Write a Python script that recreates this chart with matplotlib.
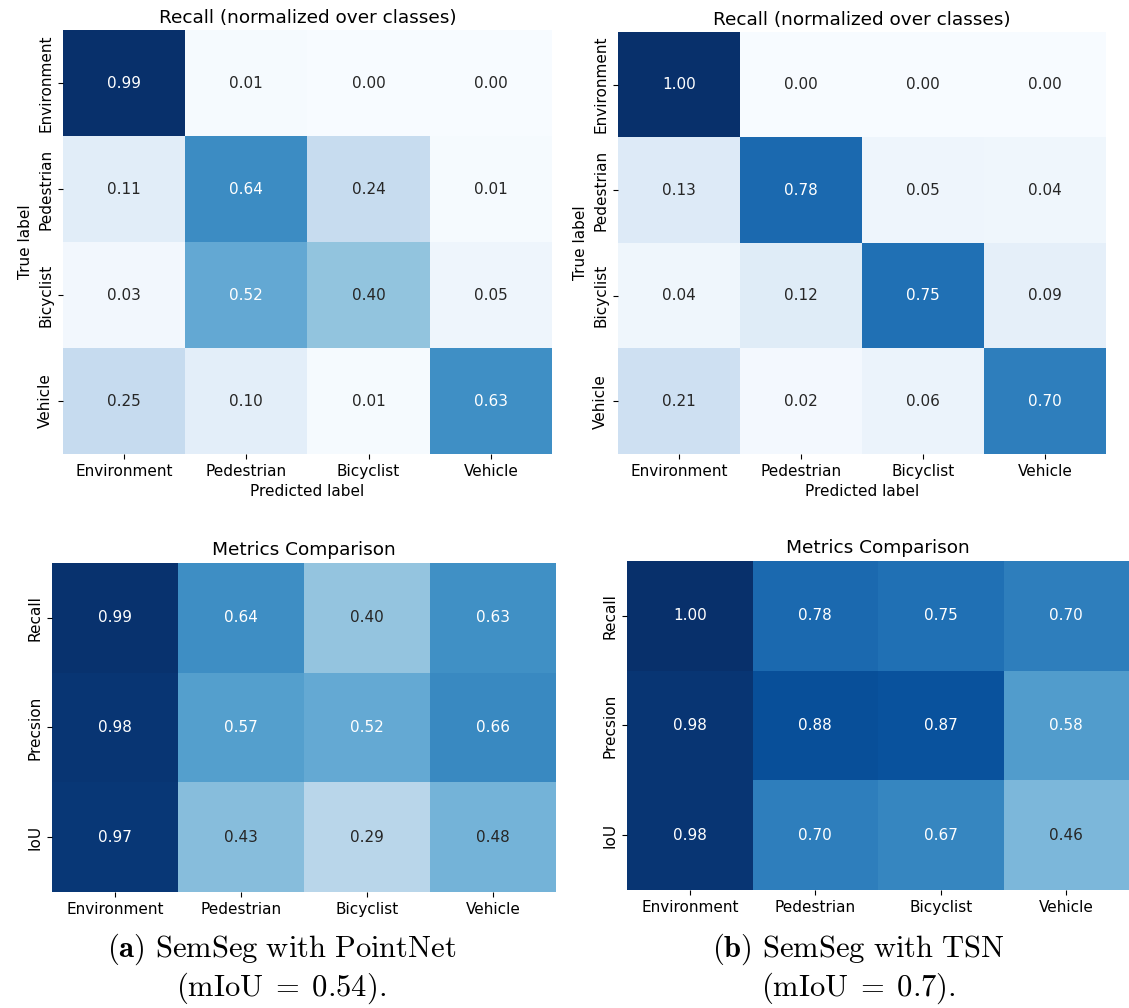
import numpy as np
import matplotlib
matplotlib.use("Agg")
import matplotlib.pyplot as plt
import seaborn as sns

plt.rcParams['mathtext.fontset'] = 'cm'

classes = ['Environment', 'Pedestrian', 'Bicyclist', 'Vehicle']
metrics = ['Recall', 'Precsion', 'IoU']

# row-normalized confusion matrices (rows: true, cols: predicted)
recall_pointnet = np.array([
    [0.99, 0.01, 0.00, 0.00],
    [0.11, 0.64, 0.24, 0.01],
    [0.03, 0.52, 0.40, 0.05],
    [0.25, 0.10, 0.01, 0.63],
])
recall_tsn = np.array([
    [1.00, 0.00, 0.00, 0.00],
    [0.13, 0.78, 0.05, 0.04],
    [0.04, 0.12, 0.75, 0.09],
    [0.21, 0.02, 0.06, 0.70],
])

# per-class metrics
metrics_pointnet = np.array([
    [0.99, 0.64, 0.40, 0.63],
    [0.98, 0.57, 0.52, 0.66],
    [0.97, 0.43, 0.29, 0.48],
])
metrics_tsn = np.array([
    [1.00, 0.78, 0.75, 0.70],
    [0.98, 0.88, 0.87, 0.58],
    [0.98, 0.70, 0.67, 0.46],
])

captions = [
    (r'$\mathbf{(a)}$ $\mathrm{SemSeg\ with\ PointNet}$', r'$\mathrm{(mIoU\;=\;0.54).}$'),
    (r'$\mathbf{(b)}$ $\mathrm{SemSeg\ with\ TSN}$', r'$\mathrm{(mIoU\;=\;0.7).}$'),
]

fs = 11
title_fs = 13.3
fig = plt.figure(figsize=(11.29, 10.08), dpi=100)

ax_tl = fig.add_axes([0.0558, 0.5496, 0.4331, 0.4206])
ax_tr = fig.add_axes([0.5474, 0.5496, 0.4322, 0.4187])
ax_bl = fig.add_axes([0.0461, 0.1151, 0.4464, 0.3264])
ax_br = fig.add_axes([0.5554, 0.1171, 0.4446, 0.3264])


def draw_confusion(ax, cm):
    sns.heatmap(cm, ax=ax, annot=True, fmt='.2f', cmap='Blues', cbar=False,
                xticklabels=classes, yticklabels=classes,
                annot_kws={'fontsize': fs})
    ax.set_title('Recall (normalized over classes)', fontsize=title_fs, pad=5)
    ax.set_xlabel('Predicted label', fontsize=fs)
    ax.set_ylabel('True label', fontsize=fs)
    ax.tick_params(labelsize=fs)
    plt.setp(ax.get_yticklabels(), rotation=90, va='center')
    plt.setp(ax.get_xticklabels(), rotation=0)


def draw_metrics(ax, m):
    sns.heatmap(m, ax=ax, annot=True, fmt='.2f', cmap='Blues', cbar=False,
                vmin=0, vmax=1, xticklabels=classes, yticklabels=metrics,
                annot_kws={'fontsize': fs})
    ax.set_title('Metrics Comparison', fontsize=title_fs, pad=6)
    ax.tick_params(labelsize=fs)
    plt.setp(ax.get_yticklabels(), rotation=90, va='center')
    plt.setp(ax.get_xticklabels(), rotation=0)


draw_confusion(ax_tl, recall_pointnet)
draw_confusion(ax_tr, recall_tsn)
draw_metrics(ax_bl, metrics_pointnet)
draw_metrics(ax_br, metrics_tsn)

for x, (l1, l2) in zip([0.249, 0.760], captions):
    fig.text(x, 1 - 949 / 1008, l1, ha='center', va='center', fontsize=22)
    fig.text(x, 1 - 988 / 1008, l2, ha='center', va='center', fontsize=22)

fig.savefig('out.png', dpi=100)
plt.close(fig)
